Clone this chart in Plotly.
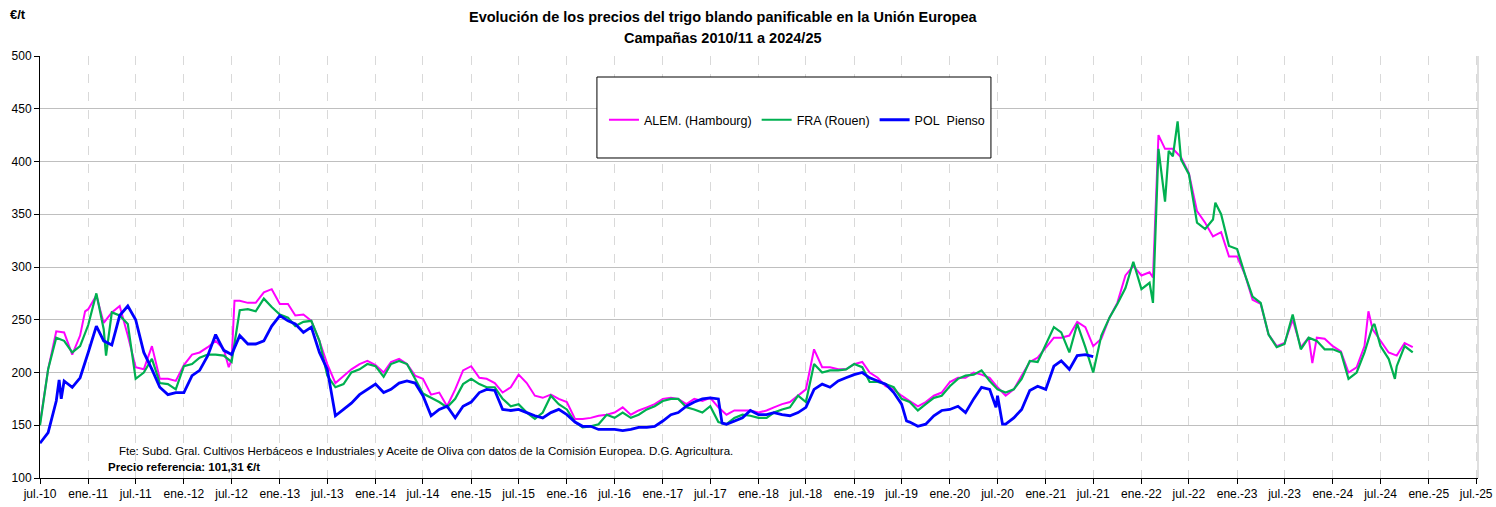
import pandas as pd
import plotly.graph_objects as go

# ---- data (monthly readings on the 1st of each month, €/t) ----
start_month = "2010-07-01"

alem = [152, 203, 239, 238, 217, 235, 260, 273, 247, 257, 263, 235,
        205, 203, 225, 194, 194, 192, 207, 217, 219, 224, 230, 222,
        212, 268, 266, 266, 276, 279, 265, 265, 254, 255, 249, 230,
        208, 190, 197, 203, 208, 211, 207, 200, 210, 213, 208, 197,
        194, 179, 181, 168, 184, 202, 206, 195, 194, 190, 181, 186,
        198, 190, 178, 176, 179, 175, 172, 156, 156, 157, 159, 160,
        162, 167, 160, 164, 167, 170, 175, 176, 175, 170, 175, 173,
        176, 167, 160, 164, 164, 164, 162, 164, 167, 170, 172, 178,
        184, 222, 205, 205, 203, 203, 208, 210, 200, 195, 187, 184,
        178, 173, 168, 172, 178, 181, 191, 195, 195, 200, 198, 195,
        186, 178, 184, 197, 210, 214, 224, 233, 233, 235, 248, 243,
        225, 232, 252, 266, 292, 301, 292, 295, 400, 412, 412, 404,
        389, 353, 342, 329, 333, 310, 310, 292, 269, 265, 236, 225,
        228, 250, 224, 233, 233, 232, 225, 220, 200, 205, 225, 241,
        230, 219, 216, 228, 224]

fra = [150, 203, 233, 230, 219, 225, 245, 275, 241, 257, 254, 246,
       194, 200, 213, 190, 189, 184, 206, 208, 214, 217, 217, 216,
       210, 259, 260, 258, 270, 262, 255, 252, 244, 248, 249, 230,
       197, 186, 189, 200, 203, 208, 206, 196, 208, 211, 208, 194,
       180, 176, 172, 167, 175, 189, 194, 189, 186, 186, 175, 168,
       170, 162, 156, 162, 178, 170, 165, 153, 148, 149, 151, 160,
       157, 162, 157, 160, 165, 168, 173, 175, 175, 167, 165, 162,
       168, 153, 151, 157, 160, 159, 157, 157, 162, 165, 167, 178,
       172, 208, 200, 202, 202, 203, 208, 205, 191, 191, 189, 186,
       175, 172, 164, 170, 176, 178, 187, 194, 197, 198, 202, 192,
       184, 181, 184, 194, 211, 210, 227, 243, 238, 219, 246, 224,
       200, 235, 252, 265, 280, 305, 279, 285, 385, 362, 405, 402,
       388, 342, 336, 345, 350, 320, 317, 292, 272, 266, 236, 224,
       227, 255, 222, 233, 230, 222, 222, 219, 194, 200, 219, 244,
       225, 213, 206, 225, 219]

pol = [133, 143, 173, 192, 186, 195, 219, 244, 230, 226, 254, 263,
       250, 219, 203, 186, 179, 181, 181, 197, 202, 216, 236, 221,
       217, 235, 227, 227, 230, 244, 254, 249, 246, 238, 243, 219,
       203, 159, 165, 171, 179, 184, 189, 181, 184, 190, 192, 190,
       178, 159, 165, 168, 157, 168, 172, 181, 184, 183, 165, 164,
       165, 162, 159, 157, 162, 165, 160, 153, 149, 149, 146, 146,
       146, 145, 146, 148, 148, 149, 154, 160, 162, 168, 172, 175,
       176, 175, 151, 154, 157, 164, 160, 160, 162, 160, 159, 162,
       167, 184, 189, 186, 192, 195, 198, 200, 195, 192, 189, 181,
       170, 153, 149, 151, 159, 164, 165, 168, 162, 175, 186, 184,
       178, 151, 157, 165, 183, 187, 184, 206, 211, 203, 216, 217,
       215]

# ---- extra mid-month readings (spikes / dips) ----
alem_extra_dates = ["2010-12-20", "2012-06-20", "2012-07-12", "2022-02-14",
                    "2022-03-07", "2023-10-15", "2024-05-16"]
alem_extra_vals = [258, 205, 268, 290, 425, 209, 258]

fra_extra_dates = ["2011-03-10", "2022-02-14", "2022-03-07", "2022-04-15",
                   "2022-05-19", "2022-10-10", "2024-06-08", "2024-08-25"]
fra_extra_vals = [216, 266, 412, 410, 438, 361, 246, 194]

pol_extra_dates = ["2010-09-12", "2010-09-20", "2017-08-15", "2019-07-20",
                   "2020-06-25", "2020-07-20"]
pol_extra_vals = [193, 175, 152, 154, 167, 151]

series_names = ["ALEM. (Hambourg)", "FRA (Rouen)", "POL\u00a0 Pienso"]
series_colors = ["#FF00FF", "#00B050", "#0000FF"]

tick_labels = ["jul.-10", "ene.-11", "jul.-11", "ene.-12", "jul.-12", "ene.-13",
               "jul.-13", "ene.-14", "jul.-14", "ene.-15", "jul.-15", "ene.-16",
               "jul.-16", "ene.-17", "jul.-17", "ene.-18", "jul.-18", "ene.-19",
               "jul.-19", "ene.-20", "jul.-20", "ene.-21", "jul.-21", "ene.-22",
               "jul.-22", "ene.-23", "jul.-23", "ene.-24", "jul.-24", "ene.-25",
               "jul.-25"]

title_1 = "Evolución de los precios del trigo blando panificable en la Unión Europea"
title_2 = "Campañas 2010/11 a 2024/25"
source_txt = "Fte: Subd. Gral. Cultivos Herbáceos e Industriales y Aceite de Oliva con datos de la Comisión Europea. D.G. Agricultura."
ref_txt = "Precio referencia: 101,31 €/t"


def build(vals, extra_dates, extra_vals):
    s = pd.Series(vals, index=pd.date_range(start_month, periods=len(vals), freq="MS"))
    e = pd.Series(extra_vals, index=pd.to_datetime(extra_dates))
    return pd.concat([s, e]).sort_index()


# ---- figure ----
FONT = "Liberation Sans, Arial, sans-serif"
fig = go.Figure()
for vals, ed, ev, name, col, w in zip(
        [alem, fra, pol],
        [alem_extra_dates, fra_extra_dates, pol_extra_dates],
        [alem_extra_vals, fra_extra_vals, pol_extra_vals],
        series_names, series_colors, [2, 2.2, 2.8]):
    s = build(vals, ed, ev)
    fig.add_trace(go.Scatter(x=s.index, y=s.values, mode="lines", name=name,
                             line=dict(color=col, width=w)))

tick_dates = pd.date_range(start_month, periods=len(tick_labels), freq="6MS")

fig.update_layout(
    width=1496, height=507,
    margin=dict(l=40, r=18, t=56, b=29),
    paper_bgcolor="white", plot_bgcolor="white",
    font=dict(family=FONT, size=12, color="black"),
    showlegend=True,
    legend=dict(orientation="h", x=0.5264, y=0.848, xanchor="center", yanchor="middle",
                bgcolor="rgba(0,0,0,0)", borderwidth=0,
                font=dict(family=FONT, size=12.5, color="black"),
                itemwidth=30, tracegroupgap=0),
    xaxis=dict(range=["2010-07-01", "2025-07-08"], tickmode="array",
               tickvals=tick_dates, ticktext=tick_labels, automargin=False,
               ticklabeloverflow="allow",
               showgrid=True, gridcolor="#D9D9D9", griddash="dash", gridwidth=1,
               showline=True, linecolor="black", linewidth=1,
               ticks="outside", ticklen=5, tickcolor="black",
               tickfont=dict(family=FONT, size=12), zeroline=False),
    yaxis=dict(range=[100, 500], dtick=50, tick0=100, automargin=False,
               showgrid=True, gridcolor="#BFBFBF", gridwidth=1,
               showline=True, linecolor="black", linewidth=1,
               ticks="outside", ticklen=5, tickcolor="black",
               tickfont=dict(family=FONT, size=12), zeroline=False),
)

# legend frame
fig.add_shape(type="rect", xref="paper", yref="paper",
              x0=0.3873, x1=0.6613, y0=0.7583, y1=0.9502,
              line=dict(color="black", width=1), fillcolor="white", layer="above")
# right border of plot area
fig.add_shape(type="line", xref="paper", yref="paper", x0=1, x1=1, y0=0, y1=1,
              line=dict(color="#BFBFBF", width=1))

fig.add_annotation(text="<b>" + title_1 + "</b>", xref="paper", yref="paper",
                   x=0.475, y=1.0924, xanchor="center", yanchor="middle",
                   showarrow=False, font=dict(family=FONT, size=14.5))
fig.add_annotation(text="<b>" + title_2 + "</b>", xref="paper", yref="paper",
                   x=0.475, y=1.0427, xanchor="center", yanchor="middle",
                   showarrow=False, font=dict(family=FONT, size=14.5))
fig.add_annotation(text="<b>€/t</b>", xref="paper", yref="paper",
                   x=-0.0153, y=1.0995, xanchor="center", yanchor="middle",
                   showarrow=False, font=dict(family=FONT, size=13))
fig.add_annotation(text=source_txt, xref="paper", yref="paper",
                   x=0.0536, y=0.064, xanchor="left", yanchor="middle",
                   showarrow=False, font=dict(family=FONT, size=11.5))
fig.add_annotation(text="<b>" + ref_txt + "</b>", xref="paper", yref="paper",
                   x=0.046, y=0.026, xanchor="left", yanchor="middle",
                   showarrow=False, font=dict(family=FONT, size=11.5))

fig.write_html("out.html",
               config={"displayModeBar": False},
               post_script="document.body.style.margin='0';"
                           "document.body.style.overflow='hidden';")
